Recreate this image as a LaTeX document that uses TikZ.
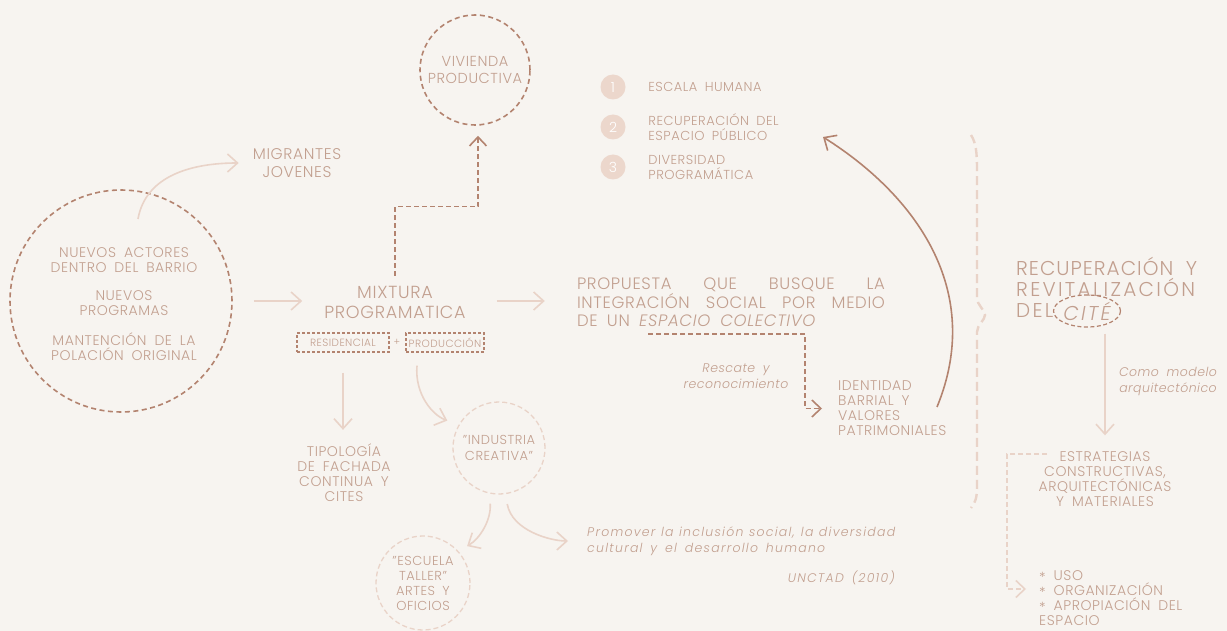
\documentclass[tikz,border=0pt]{standalone}
\usepackage{fontspec}
\setmainfont{Poppins}[UprightFont=* Light,ItalicFont=* Light Italic,LetterSpace=4,WordSpace=1.8]
\newfontfamily\titlefont{Poppins}[UprightFont=* Light,ItalicFont=* Light Italic,LetterSpace=11.5,WordSpace=2]
\newfontfamily\quotefont{Poppins}[UprightFont=* Light Italic,LetterSpace=10,WordSpace=1.6]
\usetikzlibrary{arrows.meta,shapes.geometric}
\definecolor{paper}{HTML}{F7F4F0}
\definecolor{ink}{HTML}{C29F8F}
\definecolor{rust}{HTML}{B3836F}
\definecolor{blush}{HTML}{E9D3C8}
\definecolor{dotfill}{HTML}{ECD7CC}
\tikzset{
  lbl/.style={text=ink,align=center,inner sep=0pt,font=\fontsize{14}{15}\selectfont},
  big/.style={lbl,font=\fontsize{17.5}{20}\selectfont},
  note/.style={lbl,font=\fontsize{12.5}{16}\selectfont\itshape},
  ring/.style={circle,draw=rust,line width=1.6pt,dash pattern=on 5pt off 3.5pt,inner sep=0pt},
  softring/.style={circle,draw=blush,line width=1.3pt,dash pattern=on 5pt off 3pt,inner sep=0pt},
  tag/.style={draw=rust,line width=1.1pt,dash pattern=on 3pt off 2pt,text=ink,inner sep=0pt,
    minimum height=19pt,font=\fontsize{10.5}{11}\selectfont},
  soft/.style={draw=blush,line width=1.6pt,-{Straight Barb[length=10pt,width=18pt]}},
  rustdash/.style={draw=rust,line width=1.6pt,dash pattern=on 5pt off 3pt,
    -{Straight Barb[length=9pt,width=17pt]}},
  num/.style={circle,fill=dotfill,minimum size=25pt,inner sep=0pt,text=white,
    font=\fontsize{14}{14}\selectfont},
}
\begin{document}
\begin{tikzpicture}[x=1pt,y=-1pt]
\fill[paper] (0,0) rectangle (1227,631);
\useasboundingbox (0,0) rectangle (1227,631);
% barrio
\node[ring,minimum size=222pt] (barrio) at (121,301) {};
\node[lbl] (actores) at (124,260) {NUEVOS ACTORES\\DENTRO DEL BARRIO};
\node[lbl] (programas) at (124,303) {NUEVOS\\PROGRAMAS};
\node[lbl] (original) at (124,347) {MANTENCIÓN DE LA\\POLACIÓN ORIGINAL};
\node[lbl,font=\fontsize{15.5}{18}\selectfont] (migrantes) at (297,163) {MIGRANTES\\JOVENES};
\coordinate (migstart) at (138,219);
\draw[soft] (migstart) to[out=80,in=180] ([xshift=-14pt]migrantes.west);
% mixtura
\node[big] (mixtura) at (395,302) {MIXTURA\\PROGRAMATICA};
\node[tag,minimum width=92pt] (resid) at (343,342.5) {RESIDENCIAL};
\node[lbl,font=\fontsize{10}{11}\selectfont] (plus) at (397,342.5) {+};
\node[tag,minimum width=78pt] (prod) at (445,342.5) {PRODUCCIÓN};
\draw[soft,shorten <=21pt,shorten >=22pt] (barrio) -- (mixtura.west |- barrio);
\node[ring,minimum size=110pt] (vivienda) at (475,70) {};
\node[lbl,font=\fontsize{14.5}{17}\selectfont] (viviendatxt) at (vivienda) {VIVIENDA\\PRODUCTIVA};
\draw[rustdash] ([yshift=10pt]mixtura.north) -- ++(0,-69) -| ([xshift=3pt,yshift=-10pt]vivienda.south);
% programa
\node[lbl] (tipologia) at (344,473) {TIPOLOGÍA\\DE FACHADA\\CONTINUA Y\\CITES};
\draw[soft,shorten <=20pt,shorten >=14pt] (resid.south) -- (resid.south |- tipologia.north);
\node[softring,minimum size=92pt] (industria) at (499,448) {};
\node[lbl,font=\fontsize{13}{16}\selectfont] (industriatxt) at (industria) {"INDUSTRIA\\CREATIVA"};
\draw[soft,shorten >=12pt] ([xshift=-28pt,yshift=-13pt]prod.south) to[out=-95,in=160] (industria.150);
\node[softring,minimum size=94pt] (escuela) at (423,583) {};
\node[lbl,font=\fontsize{13}{15}\selectfont] (escuelatxt) at (escuela) {"ESCUELA\\TALLER"\\ARTES Y\\OFICIOS};
\draw[soft,shorten <=10pt,shorten >=10pt] (industria.258) to[out=-85,in=30] (escuela.42);
\node[lbl,font=\quotefont\fontsize{12.5}{16}\selectfont,anchor=west,align=left] (promover) at (587,541)
  {\makebox[308pt][s]{Promover la inclusión social, la diversidad}\\cultural y el desarrollo humano};
\node[lbl,font=\quotefont\fontsize{12.5}{16}\selectfont,anchor=east] (unctad) at (895,578) {UNCTAD (2010)};
\draw[soft,shorten <=10pt,shorten >=19pt] (industria.278) to[out=-80,in=180] (promover.west);
% propuesta
\node[lbl,font=\fontsize{16.5}{18.5}\selectfont,align=left] (propuesta) at (731,302.5)
  {\makebox[308pt][s]{PROPUESTA QUE BUSQUE LA}\\
   \makebox[308pt][s]{INTEGRACIÓN SOCIAL POR MEDIO}\\
   DE UN \textit{ESPACIO COLECTIVO}};
\draw[soft,shorten <=31pt,shorten >=32pt] (mixtura.east |- barrio) -- (propuesta.west |- barrio);
\node[note] (rescate) at (736,376) {Rescate y\\reconocimiento};
\node[lbl,anchor=west,align=left] (identidad) at (838,408.5) {IDENTIDAD\\BARRIAL Y\\VALORES\\PATRIMONIALES};
\coordinate (colectivo) at (648,334);
\draw[rustdash,shorten >=16pt] (colectivo) -- ++(157,0) |- (identidad.west);
% principios
\foreach \n/\y in {1/87,2/127,3/167}
  \node[num] (n\n) at (613,\y) {\n};
\node[lbl,font=\fontsize{13}{15}\selectfont,anchor=west,align=left] (escala) at ([xshift=22.5pt]n1.east) {ESCALA HUMANA};
\node[lbl,font=\fontsize{13}{15}\selectfont,anchor=west,align=left] (publico) at ([xshift=22.5pt]n2.east) {RECUPERACIÓN DEL\\ESPACIO PÚBLICO};
\node[lbl,font=\fontsize{13}{15}\selectfont,anchor=west,align=left] (diversidad) at ([xshift=22.5pt]n3.east) {DIVERSIDAD\\PROGRAMÁTICA};
\coordinate (loopstart) at (937,407);
\coordinate (loopend) at (823,137);
\draw[rust,line width=1.6pt,-{Straight Barb[length=10pt,width=18pt]}]
  (loopstart) .. controls (985,290) and (915,195) .. (loopend);
% llave
\draw[blush,line width=2.4pt,dash pattern=on 9pt off 5pt]
  (971,135) .. controls (976,143) and (977,152) .. (977,170) -- (977,298)
  .. controls (977,305) and (985,310) .. (985,315)
  .. controls (985,320) and (977,325) .. (977,332) -- (977,488)
  .. controls (977,498) and (975,503) .. (971,508);
% cite
\node[lbl,font=\titlefont\fontsize{20}{21.5}\selectfont,align=left,anchor=north west] (titulo) at (1016,257)
  {\makebox[181pt][s]{\addfontfeature{LetterSpace=5}RECUPERACIÓN Y}\\REVITALIZACIÓN};
\node[lbl,font=\titlefont\fontsize{20}{21.5}\selectfont,anchor=west] (del) at (1016,310) {DEL};
\node[ellipse,draw=rust,line width=1.2pt,dash pattern=on 4pt off 2.5pt,minimum width=66pt,minimum height=32pt,
  inner sep=0pt,text=ink,font=\titlefont\fontsize{20}{20}\selectfont\itshape] (cite) at (1087,311) {CITÉ};
\node[lbl] (estrat) at (1105,479) {ESTRATEGIAS\\CONSTRUCTIVAS,\\ARQUITECTÓNICAS\\Y MATERIALES};
\draw[soft,shorten <=6pt,shorten >=16pt] (cite.south -| estrat.north) -- (estrat.north);
\node[note] (modelo) at (1168,381) {Como modelo\\arquitectónico};
\node[lbl,anchor=west,align=left] (usos) at (1039,598)
  {\raisebox{-2pt}{*} USO\\\raisebox{-2pt}{*} ORGANIZACIÓN\\\raisebox{-2pt}{*} APROPIACIÓN DEL\\ESPACIO};
\coordinate (stratleft) at (1047,454);
\coordinate (usotip) at (1026,589);
\draw[blush,line width=1.6pt,dash pattern=on 5pt off 3pt,-{Straight Barb[length=9pt,width=17pt]}]
  (stratleft) -- ++(-40,0) |- (usotip);
\end{tikzpicture}
\end{document}
